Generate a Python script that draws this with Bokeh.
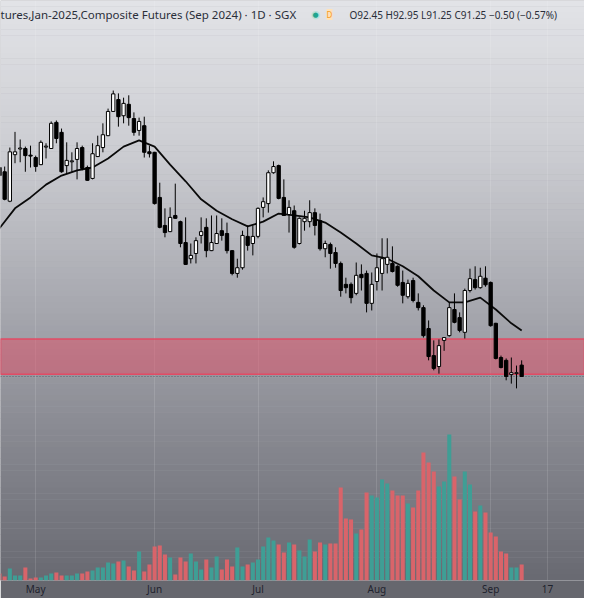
from bokeh.plotting import figure
from bokeh.models import Range1d, FixedTicker, BoxAnnotation, Span, Label, ColumnDataSource
from bokeh.embed import file_html
from bokeh.resources import INLINE

# ---------------- data ----------------
OPEN = [113.25, 112.8, 109.7, 114.6, 115.2, 115.25, 114.55, 114.3, 113.55, 115.4,
        115.25, 118.0, 116.95, 113.45, 113.85, 114.1, 115.35, 113.25, 112.1, 114.4,
        115.35, 116.6, 119.15, 120.4, 118.7, 119.9, 118.4, 117.15, 117.65, 114.9,
        114.85, 110.1, 107.15, 106.5, 108.2, 107.55, 105.35, 103.65, 104.2, 106.1,
        106.95, 104.5, 105.25, 106.6, 106.3, 104.5, 102.1, 102.7, 106.0, 105.25,
        106.0, 109.05, 109.45, 112.7, 113.45, 110.1, 108.3, 108.7, 105.25, 107.55,
        107.55, 108.5, 107.65, 104.7, 105.15, 104.3, 103.15, 100.95, 100.95, 100.0,
        102.0, 102.1, 98.95, 101.25, 102.1, 103.05, 103.15, 102.85, 101.15, 99.65,
        101.35, 99.05, 98.5, 96.3, 93.45, 92.3, 95.05, 95.55, 98.3, 97.45,
        95.9, 100.3, 101.45, 100.6, 101.6, 101.15, 96.85, 93.25, 92.95, 91.45,
        91.55, 92.45]
HIGH = [114.0, 113.35, 115.35, 117.0, 116.2, 115.45, 115.55, 114.5, 116.1, 115.8,
        118.1, 118.2, 117.35, 115.9, 114.85, 115.9, 115.55, 113.45, 115.8, 116.6,
        117.9, 119.45, 121.35, 121.05, 120.6, 120.85, 119.05, 118.5, 118.6, 115.55,
        114.9, 111.65, 108.95, 109.05, 111.55, 107.65, 108.0, 105.25, 105.9, 108.0,
        107.9, 108.2, 108.2, 107.9, 107.45, 104.55, 103.65, 106.6, 107.15, 107.15,
        109.05, 110.1, 112.95, 113.9, 113.55, 112.0, 109.8, 109.25, 108.0, 108.7,
        109.8, 108.95, 108.4, 105.55, 105.35, 104.85, 103.35, 101.65, 101.15, 103.25,
        103.05, 102.4, 102.2, 104.2, 105.8, 105.8, 104.95, 102.95, 102.4, 101.45,
        101.65, 100.0, 98.75, 97.15, 95.05, 95.15, 95.35, 99.05, 100.0, 98.0,
        100.5, 102.6, 102.85, 102.7, 102.85, 101.25, 96.9, 93.45, 93.15, 93.25,
        92.4, 92.95]
LOW = [112.1, 109.8, 109.6, 113.7, 113.8, 112.8, 113.25, 112.8, 113.5, 114.2,
       115.2, 115.8, 112.7, 112.6, 112.8, 112.0, 112.95, 111.85, 112.0, 114.35,
       114.85, 116.55, 119.1, 117.55, 117.9, 117.65, 116.6, 116.6, 114.3, 114.3,
       109.35, 106.85, 105.9, 106.45, 107.85, 104.85, 103.0, 103.15, 103.15, 105.25,
       103.8, 104.45, 105.2, 105.55, 104.2, 101.9, 101.65, 102.5, 104.5, 104.0,
       105.8, 108.0, 108.5, 112.6, 109.9, 108.15, 106.4, 104.7, 105.15, 106.6,
       106.95, 106.1, 104.5, 103.8, 102.6, 102.7, 99.65, 100.0, 98.95, 99.8,
       100.3, 98.0, 98.2, 100.3, 100.3, 102.1, 102.2, 100.7, 98.95, 99.45,
       99.05, 98.2, 95.35, 92.95, 91.9, 91.55, 93.95, 95.45, 96.85, 95.9,
       95.25, 100.1, 100.4, 100.5, 100.7, 96.5, 93.05, 92.1, 90.85, 90.5,
       90.0, 91.25]
CLOSE = [112.4, 109.9, 114.9, 114.9, 115.3, 114.5, 114.45, 113.35, 115.9, 115.5,
         117.9, 116.3, 112.8, 114.0, 113.95, 115.25, 113.15, 111.9, 114.7, 115.55,
         116.7, 119.15, 121.0, 118.6, 120.0, 118.5, 116.95, 118.1, 114.85, 114.7,
         109.45, 106.95, 106.4, 108.0, 107.9, 105.25, 103.05, 104.0, 105.55, 106.5,
         104.5, 105.35, 106.3, 106.1, 104.5, 102.1, 102.7, 106.1, 105.05, 106.0,
         108.95, 109.65, 112.7, 113.35, 110.0, 108.2, 109.05, 104.85, 107.9, 107.9,
         108.5, 107.15, 104.7, 105.25, 104.2, 103.15, 100.3, 100.6, 99.55, 101.9,
         101.65, 98.95, 100.95, 102.7, 103.65, 103.8, 102.3, 100.85, 99.8, 101.05,
         99.25, 98.5, 95.55, 93.35, 92.1, 94.5, 95.35, 98.5, 96.95, 96.1,
         100.3, 101.55, 100.6, 101.8, 100.9, 96.6, 93.15, 92.2, 91.25, 91.65,
         91.65, 91.25]
VOLUME = [700, 400, 1200, 500, 500, 1300, 200, 300, 300, 500,
          700, 800, 500, 500, 500, 700, 700, 900, 1000, 1300,
          1300, 1800, 1700, 1900, 2000, 1400, 1000, 2900, 900, 1600,
          3400, 3500, 2600, 2300, 600, 2300, 1900, 2700, 1900, 1100,
          2100, 1300, 2400, 1100, 2100, 1400, 3300, 1400, 1600, 1800,
          2100, 3400, 4300, 4000, 3600, 2800, 3800, 3600, 3000, 2400,
          4100, 2900, 3800, 3600, 3700, 3700, 9300, 6200, 6100, 4700,
          5100, 8800, 8500, 8300, 10100, 9700, 9000, 8500, 8500, 7700,
          7300, 9000, 12800, 11800, 10900, 9400, 9900, 14600, 10400, 8100,
          10900, 9600, 6900, 7500, 6800, 4800, 4400, 2900, 2700, 1300,
          1300, 1600]
MA_IDX = [0, 3, 6, 9, 12, 15, 18, 21, 24, 27, 30, 33, 36, 39, 42, 45, 48, 51,
          54, 57, 60, 63, 66, 69, 72, 75, 78, 81, 84, 87, 90, 93, 96, 99, 101]
MA_VAL = [106.85, 108.95, 110.1, 111.45, 112.4, 112.95, 113.25, 114.2, 115.45,
          116.1, 115.45, 113.55, 111.8, 109.9, 108.7, 107.8, 107.05, 107.55,
          108.4, 108.2, 108.0, 107.45, 106.4, 105.25, 104.0, 103.65, 102.85,
          101.8, 100.3, 99.05, 99.05, 99.55, 98.3, 96.85, 96.1]
ZONE_LOW, ZONE_HIGH = 91.5, 95.2
LAST_CLOSE = 91.25
TICK_IDX = [7, 30, 50, 73, 95, 106]
TICK_LABELS = ["May", "Jun", "Jul", "Aug", "Sep", "17"]
TITLE = "tures,Jan-2025,Composite Futures (Sep 2024) \u00b7 1D \u00b7 SGX"
OHLC_TEXT = "O92.45 H92.95 L91.25 C91.25 \u22120.50 (\u22120.57%)"

# ---------------- layout ----------------
FRAME_W, FRAME_H = 584, 580
PX_PER_UNIT = 9.5          # vertical pixels per price unit
BAR_PX = 5.17              # horizontal pixels per bar
ANCHOR_Y = 376             # frame pixel (from top) of LAST_CLOSE
y_top = LAST_CLOSE + ANCHOR_Y / PX_PER_UNIT
y_bot = LAST_CLOSE - (FRAME_H - ANCHOR_Y) / PX_PER_UNIT
x_start = 1 / BAR_PX
x_end = x_start + FRAME_W / BAR_PX
VOL_PER_PX = 100.0

n = len(OPEN)
idx = list(range(n))
up = [c >= o for o, c in zip(OPEN, CLOSE)]
src = ColumnDataSource(dict(
    x=idx, o=OPEN, h=HIGH, l=LOW, c=CLOSE,
    top=[max(o, c) for o, c in zip(OPEN, CLOSE)],
    bot=[min(o, c) for o, c in zip(OPEN, CLOSE)],
    body=["#ffffff" if u else "#000000" for u in up],
    vol=VOLUME,
    vcol=["#3f9e95" if u else "#d9646a" for u in up],
))

p = figure(frame_width=FRAME_W, frame_height=FRAME_H,
           x_range=Range1d(x_start, x_end), y_range=Range1d(y_bot, y_top),
           toolbar_location=None, output_backend="svg", tools="",
           min_border=0, y_axis_location=None)
p.extra_y_ranges = {"vol": Range1d(0, FRAME_H * VOL_PER_PX)}
p.outline_line_color = None
p.border_fill_color = "#66676e"
p.background_fill_color = "#a9aab0"

# background gradient (style only)
stops = [(0, (226, 227, 231)), (150, (204, 205, 210)), (300, (168, 169, 176)),
         (450, (132, 133, 141)), (600, (100, 101, 109))]
def col_at(yref):
    for (y0, c0), (y1, c1) in zip(stops[:-1], stops[1:]):
        if yref <= y1:
            t = (yref - y0) / (y1 - y0)
            return "#%02x%02x%02x" % tuple(int(round(a + (b - a) * t)) for a, b in zip(c0, c1))
    return "#%02x%02x%02x" % stops[-1][1]
NB = 100
tops, bots, cols = [], [], []
for k in range(NB):
    f0 = FRAME_H * k / NB
    f1 = FRAME_H * (k + 1) / NB
    tops.append(y_top - f0 / PX_PER_UNIT)
    bots.append(y_top - f1 / PX_PER_UNIT - 0.02)
    cols.append(col_at((f0 + f1) / 2))
bg = p.quad(left=x_start - 1, right=x_end + 1, top=tops, bottom=bots,
            fill_color=cols, line_color=None)
bg.level = "image"

# grid
p.xgrid.ticker = FixedTicker(ticks=TICK_IDX)
p.xgrid.grid_line_color = "#ffffff"
p.xgrid.grid_line_alpha = 0.12
p.ygrid.grid_line_color = None

# zone
zone = BoxAnnotation(bottom=ZONE_LOW, top=ZONE_HIGH, fill_color="#e8455f", fill_alpha=0.45,
                     line_color="#e8455f", line_alpha=0.9, line_width=1.5, level="underlay")
p.add_layout(zone)
p.add_layout(Span(location=LAST_CLOSE, dimension="width", line_color="#5d5f6a",
                  line_dash="1 2", line_width=1, level="underlay"))

# volume
p.vbar(x="x", top="vol", bottom=0, width=0.78, fill_color="vcol", line_color=None,
       y_range_name="vol", source=src)

# moving average
p.line(MA_IDX, MA_VAL, line_color="#0a0a0a", line_width=1.8)

# candles
p.segment(x0="x", y0="l", x1="x", y1="h", line_color="#000000", line_width=1, source=src)
p.vbar(x="x", top="top", bottom="bot", width=0.64, fill_color="body",
       line_color="#000000", line_width=1, source=src)

# x axis
ax = p.xaxis[0]
ax.ticker = FixedTicker(ticks=TICK_IDX)
ax.major_label_overrides = {t: s for t, s in zip(TICK_IDX, TICK_LABELS)}
ax.major_label_text_font = "Noto Sans"
ax.major_label_text_font_size = "10px"
ax.major_label_text_color = "#1e222d"
ax.major_label_standoff = 1
ax.major_tick_in = 0
ax.major_tick_out = 0
ax.minor_tick_line_color = None
ax.axis_line_color = None

# header
hy = FRAME_H - 14
p.add_layout(Label(x=0, y=hy, x_units="screen", y_units="screen", text=TITLE,
                   text_font="Noto Sans", text_font_size="11.5px", text_color="#2a2e39",
                   text_baseline="middle"))
p.add_layout(Label(x=315, y=hy, x_units="screen", y_units="screen", text="\u25cf",
                   text_font="DejaVu Sans", text_font_size="11px", text_color="#b9e0d9",
                   text_baseline="middle", text_align="center"))
p.add_layout(Label(x=315, y=hy, x_units="screen", y_units="screen", text="\u25cf",
                   text_font="DejaVu Sans", text_font_size="7px", text_color="#1fa58f",
                   text_baseline="middle", text_align="center"))
p.add_layout(Label(x=329, y=hy, x_units="screen", y_units="screen", text="D",
                   text_font="Noto Sans", text_font_size="8px", text_color="#f59a23",
                   background_fill_color="#ffe2b8", text_baseline="middle", text_align="center"))
p.add_layout(Label(x=349, y=hy, x_units="screen", y_units="screen", text=OHLC_TEXT,
                   text_font="Noto Sans", text_font_size="10px", text_color="#2a2e39",
                   text_baseline="middle"))

open("out.html", "w").write(file_html(p, INLINE))
